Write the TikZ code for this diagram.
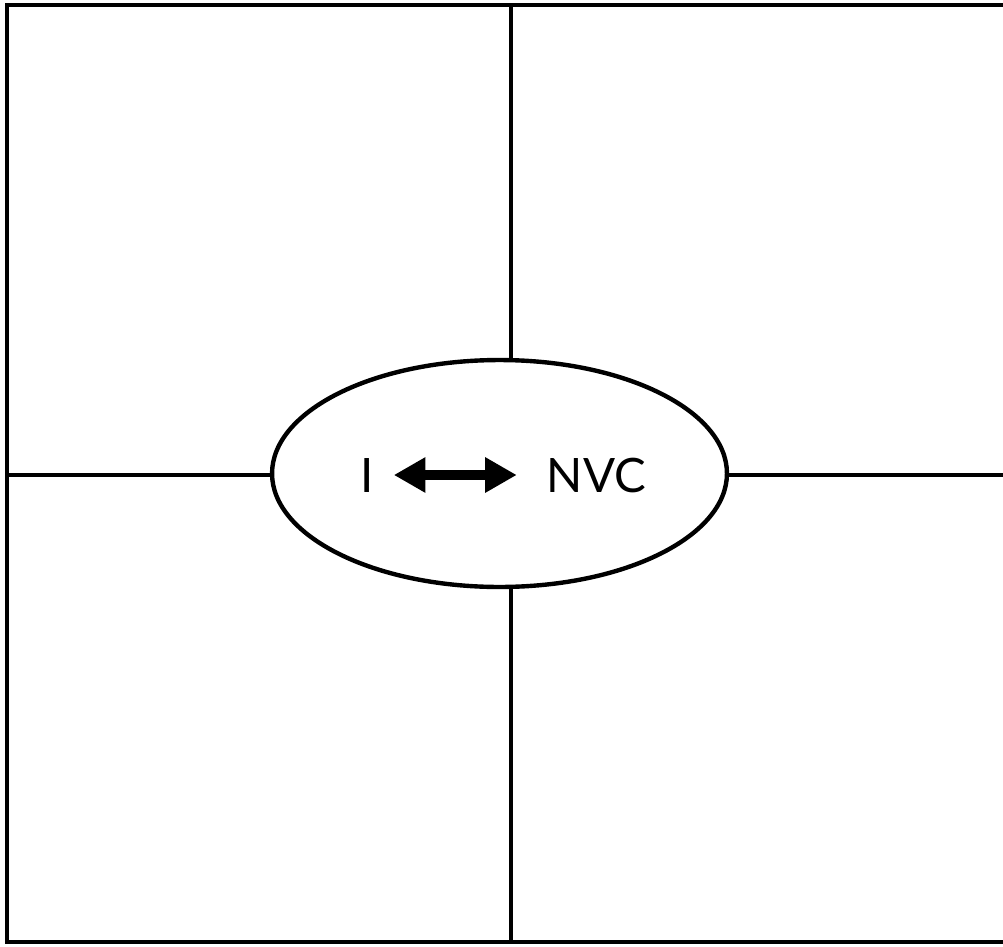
\documentclass[tikz,border=0pt]{standalone}
\usepackage{fontspec}
\setmainfont{Lato}
\usepackage{tikz}
\usetikzlibrary{arrows.meta,positioning,shapes.geometric,calc}

\begin{document}
\begin{tikzpicture}[
      x=0.02cm, y=-0.02cm,
      rule/.style  = {line width=2.5pt, draw=black},
      core/.style  = {ellipse, minimum width=9.1cm, minimum height=4.54cm,
          inner sep=0pt, rule, fill=white},
      tag/.style   = {inner sep=0pt, font=\fontsize{27}{31}\selectfont},
      dbl/.style   = {{Triangle[length=18pt,width=19pt]}-{Triangle[length=18pt,width=19pt]},
          line width=5.7pt},
    ]
    \useasboundingbox (0,0) rectangle (1003,946);

    % ── Marco y extremos de los ejes ─────────────────────────────
    \draw[rule] (7,5) rectangle (1012,942);
    \coordinate (n) at (511,5);
    \coordinate (s) at (511,942);
    \coordinate (w) at (7,475);
    \coordinate (e) at (1012,475);

    % ── Elipse central ───────────────────────────────────────────
    \node[core] (C) at (499.5,473.5) {};

    % ── Ejes ─────────────────────────────────────────────────────
    \draw[rule] (n) -- (n |- C.north);
    \draw[rule] (s) -- (s |- C.south);
    \draw[rule] (w) -- (w -| C.west);
    \draw[rule] (e) -- (e -| C.east);

    % ── Texto ────────────────────────────────────────────────────
    \node[tag] (I)   at (367.5,475) {I};
    \node[tag] (NVC) at (596.5,475) {NVC};
    \draw[dbl, shorten <=11pt, shorten >=17pt] (I) -- (NVC);

  \end{tikzpicture}
\end{document}
